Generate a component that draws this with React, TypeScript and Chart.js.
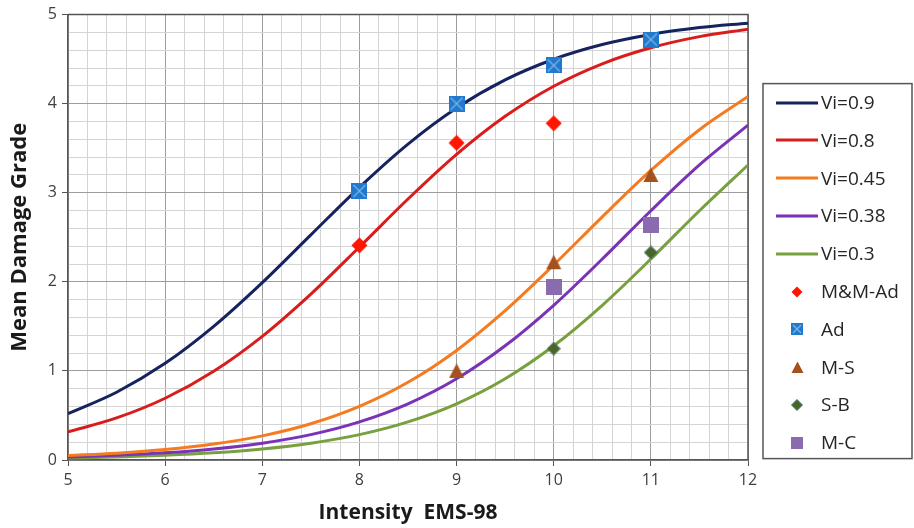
import React, { useEffect, useRef } from 'react';
import { Chart, registerables } from 'chart.js';

Chart.register(...registerables);

// ---- Data ----
const intensity = [5, 5.5, 6, 6.5, 7, 7.5, 8, 8.5, 9, 9.5, 10, 10.5, 11, 11.5, 12];
const vi090 = [0.52, 0.761, 1.085, 1.5, 1.991, 2.527, 3.061, 3.546, 3.951, 4.267, 4.499, 4.664, 4.777, 4.854, 4.904];
const vi080 = [0.316, 0.472, 0.693, 0.996, 1.388, 1.862, 2.391, 2.93, 3.431, 3.858, 4.196, 4.448, 4.628, 4.753, 4.837];
const vi045 = [0.05, 0.077, 0.117, 0.179, 0.271, 0.407, 0.602, 0.872, 1.23, 1.676, 2.189, 2.73, 3.25, 3.708, 4.08];
const vi038 = [0.034, 0.053, 0.081, 0.124, 0.189, 0.285, 0.428, 0.631, 0.912, 1.282, 1.737, 2.256, 2.798, 3.312, 3.759];
const vi030 = [0.022, 0.034, 0.053, 0.081, 0.124, 0.189, 0.285, 0.428, 0.631, 0.912, 1.282, 1.737, 2.256, 2.798, 3.312];

const mmAdX = [8, 9, 10];
const mmAdY = [2.41, 3.56, 3.78];
const adX = [8, 9, 10, 11];
const adY = [3.02, 4.0, 4.43, 4.72];
const msX = [9, 10, 11];
const msY = [1.0, 2.22, 3.2];
const sbX = [10, 11];
const sbY = [1.25, 2.33];
const mcX = [10, 11];
const mcY = [1.94, 2.64];

const curveLabels = ['Vi=0.9', 'Vi=0.8', 'Vi=0.45', 'Vi=0.38', 'Vi=0.3'];
const markerLabels = ['M&M-Ad', 'Ad', 'M-S', 'S-B', 'M-C'];
const xTitle = 'Intensity  EMS-98';
const yTitle = 'Mean Damage Grade';

const FONT = '"Open Sans", Lato, sans-serif';

function makeCanvas(w: number, h: number, draw: (c: CanvasRenderingContext2D) => void) {
  const c = document.createElement('canvas');
  c.width = w;
  c.height = h;
  const ctx = c.getContext('2d') as CanvasRenderingContext2D;
  draw(ctx);
  return c;
}

function diamond(s: number, fill: string, stroke?: string) {
  return makeCanvas(s, s, (ctx) => {
    ctx.beginPath();
    ctx.moveTo(s / 2, 0.5);
    ctx.lineTo(s - 0.5, s / 2);
    ctx.lineTo(s / 2, s - 0.5);
    ctx.lineTo(0.5, s / 2);
    ctx.closePath();
    ctx.fillStyle = fill;
    ctx.fill();
    if (stroke) {
      ctx.strokeStyle = stroke;
      ctx.lineWidth = 1;
      ctx.stroke();
    }
  });
}

function square(s: number, fill: string, cross?: string) {
  return makeCanvas(s, s, (ctx) => {
    ctx.fillStyle = fill;
    ctx.fillRect(0, 0, s, s);
    if (cross) {
      ctx.strokeStyle = cross;
      ctx.lineWidth = 1.2;
      ctx.beginPath();
      ctx.moveTo(2, 2);
      ctx.lineTo(s - 2, s - 2);
      ctx.moveTo(s - 2, 2);
      ctx.lineTo(2, s - 2);
      ctx.stroke();
    }
  });
}

function triangle(s: number, fill: string) {
  return makeCanvas(s, s, (ctx) => {
    ctx.beginPath();
    ctx.moveTo(s / 2, 0.5);
    ctx.lineTo(s - 0.5, s - 1);
    ctx.lineTo(0.5, s - 1);
    ctx.closePath();
    ctx.fillStyle = fill;
    ctx.fill();
  });
}

function lineIcon(color: string) {
  return makeCanvas(42, 4, (ctx) => {
    ctx.fillStyle = color;
    ctx.fillRect(0, 0.5, 42, 3);
  });
}

const isInt = (v: number) => Math.abs(v - Math.round(v)) < 1e-6;

const plotBorder = {
  id: 'plotBorder',
  beforeDatasetsDraw(chart: any) {
    const { ctx, chartArea: a } = chart;
    ctx.save();
    ctx.strokeStyle = '#555555';
    ctx.lineWidth = 1.5;
    ctx.beginPath();
    ctx.moveTo(a.left, a.top);
    ctx.lineTo(a.right, a.top);
    ctx.lineTo(a.right, a.bottom);
    ctx.stroke();
    ctx.restore();
  },
};

const boxLegend = {
  id: 'boxLegend',
  afterDraw(chart: any) {
    const { ctx, chartArea: a } = chart;
    const left = a.right + 15;
    const right = chart.width - 2;
    const top = a.top + 69;
    const bottom = a.top + 444;
    ctx.save();
    ctx.fillStyle = '#ffffff';
    ctx.fillRect(left, top, right - left, bottom - top);
    ctx.strokeStyle = '#555555';
    ctx.lineWidth = 1.5;
    ctx.strokeRect(left, top, right - left, bottom - top);
    const iconX = left + 34;
    const textX = left + 58;
    const row0 = a.top + 88;
    const step = 37.8;
    ctx.font = '19px ' + FONT;
    ctx.fillStyle = '#262626';
    ctx.textBaseline = 'middle';
    ctx.textAlign = 'left';
    chart.data.datasets.forEach((ds: any, i: number) => {
      const y = row0 + i * step;
      const img = ds.legendIcon as HTMLCanvasElement;
      ctx.drawImage(img, Math.round(iconX - img.width / 2), Math.round(y - img.height / 2));
      ctx.fillText(ds.label, textX, y + 1);
    });
    ctx.restore();
  },
};

export default function App() {
  const ref = useRef<HTMLCanvasElement | null>(null);

  useEffect(() => {
    document.body.style.margin = '0';
    const canvas = ref.current;
    if (!canvas) return;

    const toPts = (xs: number[], ys: number[]) => xs.map((x, i) => ({ x, y: ys[i] }));
    const curveColors = ['#15235f', '#d91c1c', '#f47b20', '#7a33b6', '#79a03f'];
    const curveData = [vi090, vi080, vi045, vi038, vi030];

    const curveSets = curveData.map((arr, i) => ({
      label: curveLabels[i],
      data: toPts(intensity, arr),
      showLine: true,
      borderColor: curveColors[i],
      backgroundColor: curveColors[i],
      borderWidth: 3,
      pointRadius: 0,
      pointHoverRadius: 0,
      cubicInterpolationMode: 'monotone',
      fill: false,
      order: 3,
      legendIcon: lineIcon(curveColors[i]),
    }));

    const markerDefs = [
      { xs: mmAdX, ys: mmAdY, img: diamond(17, '#ff1500'), icon: diamond(12, '#ff1500'), order: 2 },
      { xs: adX, ys: adY, img: square(16, '#2079cc', '#7db6ea'), icon: square(12, '#2079cc', '#7db6ea'), order: 1 },
      { xs: msX, ys: msY, img: triangle(16, '#a4511d'), icon: triangle(13, '#a4511d'), order: 2 },
      { xs: sbX, ys: sbY, img: diamond(14, '#4b6526', '#3e7a78'), icon: diamond(12, '#4b6526', '#3e7a78'), order: 2 },
      { xs: mcX, ys: mcY, img: square(16, '#8a6bb0'), icon: square(12, '#8a6bb0'), order: 2 },
    ];

    const markerSets = markerDefs.map((m, i) => ({
      label: markerLabels[i],
      data: toPts(m.xs, m.ys),
      showLine: false,
      pointStyle: m.img,
      pointRadius: 8,
      order: m.order,
      legendIcon: m.icon,
    }));

    const tickFont = { family: FONT, size: 16 };

    const chart = new Chart(canvas, {
      type: 'scatter',
      data: { datasets: [...curveSets, ...markerSets] as any },
      options: {
        animation: false,
        responsive: false,
        devicePixelRatio: 1,
        layout: { padding: { top: 14, right: 166, left: 0, bottom: 0 } },
        plugins: {
          legend: { display: false },
          tooltip: { enabled: false },
        },
        scales: {
          x: {
            type: 'linear',
            min: 5,
            max: 12,
            afterFit: (s: any) => {
              s.height = 68;
            },
            ticks: {
              stepSize: 0.2,
              autoSkip: false,
              maxRotation: 0,
              padding: 5,
              color: '#404040',
              font: tickFont,
              callback: (v: any) => (isInt(Number(v)) ? String(Math.round(Number(v))) : ''),
            },
            grid: {
              color: (c: any) => (isInt(c.tick.value) ? '#9c9c9c' : '#d4d4d4'),
              tickColor: (c: any) => (isInt(c.tick.value) ? '#555555' : 'rgba(0,0,0,0)'),
              tickLength: 6,
              lineWidth: 1,
            },
            border: { display: true, color: '#555555', width: 1.5 },
            title: {
              display: true,
              text: xTitle,
              color: '#1a1a1a',
              font: { family: FONT, size: 21, weight: 'bold' },
              padding: { top: 0, bottom: 2 },
            },
          },
          y: {
            type: 'linear',
            min: 0,
            max: 5,
            afterFit: (s: any) => {
              s.width = 68;
            },
            ticks: {
              stepSize: 0.2,
              autoSkip: false,
              padding: 5,
              color: '#404040',
              font: tickFont,
              callback: (v: any) => (isInt(Number(v)) ? String(Math.round(Number(v))) : ''),
            },
            grid: {
              color: (c: any) => (isInt(c.tick.value) ? '#9c9c9c' : '#d4d4d4'),
              tickColor: (c: any) => (isInt(c.tick.value) ? '#555555' : 'rgba(0,0,0,0)'),
              tickLength: 6,
              lineWidth: 1,
            },
            border: { display: true, color: '#555555', width: 1.5 },
            title: {
              display: true,
              text: yTitle,
              color: '#1a1a1a',
              font: { family: FONT, size: 22, weight: 'bold' },
              padding: { top: 7, bottom: 0 },
            },
          },
        },
      } as any,
      plugins: [plotBorder, boxLegend],
    });

    return () => chart.destroy();
  }, []);

  return (
    <div style={{ width: 914, height: 528, overflow: 'hidden', background: '#ffffff' }}>
      <canvas ref={ref} width={914} height={528} style={{ display: 'block' }} />
    </div>
  );
}
